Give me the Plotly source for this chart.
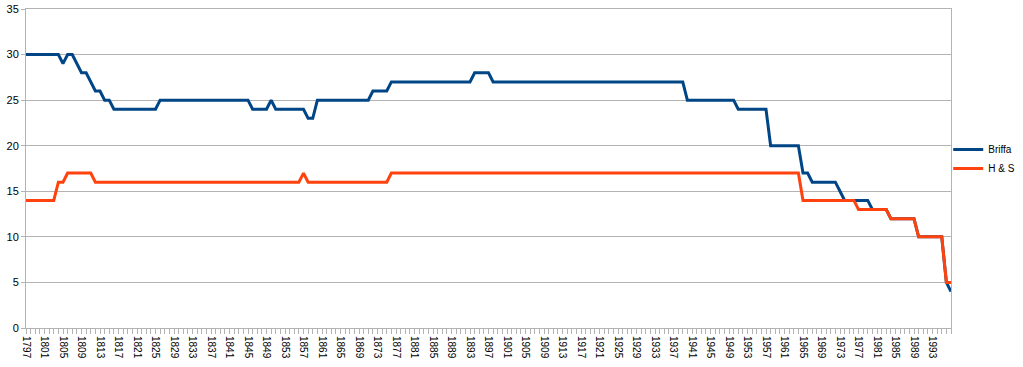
import plotly.graph_objects as go

years = list(range(1797, 1998))

briffa = [
    30, 30, 30,                                   # 1797-1799
    30, 30, 30, 30, 30, 29, 30, 30, 29, 28,       # 1800s
    28, 27, 26, 26, 25, 25, 24, 24, 24, 24,       # 1810s
    24, 24, 24, 24, 24, 24, 25, 25, 25, 25,       # 1820s
    25, 25, 25, 25, 25, 25, 25, 25, 25, 25,       # 1830s
    25, 25, 25, 25, 25, 25, 24, 24, 24, 24,       # 1840s
    25, 24, 24, 24, 24, 24, 24, 24, 23, 23,       # 1850s
    25, 25, 25, 25, 25, 25, 25, 25, 25, 25,       # 1860s
    25, 25, 26, 26, 26, 26, 27, 27, 27, 27,       # 1870s
    27, 27, 27, 27, 27, 27, 27, 27, 27, 27,       # 1880s
    27, 27, 27, 27, 28, 28, 28, 28, 27, 27,       # 1890s
    27, 27, 27, 27, 27, 27, 27, 27, 27, 27,       # 1900s
    27, 27, 27, 27, 27, 27, 27, 27, 27, 27,       # 1910s
    27, 27, 27, 27, 27, 27, 27, 27, 27, 27,       # 1920s
    27, 27, 27, 27, 27, 27, 27, 27, 27, 27,       # 1930s
    25, 25, 25, 25, 25, 25, 25, 25, 25, 25,       # 1940s
    25, 24, 24, 24, 24, 24, 24, 24, 20, 20,       # 1950s
    20, 20, 20, 20, 20, 17, 17, 16, 16, 16,       # 1960s
    16, 16, 16, 15, 14, 14, 14, 14, 14, 14,       # 1970s
    13, 13, 13, 13, 12, 12, 12, 12, 12, 12,       # 1980s
    10, 10, 10, 10, 10, 10, 5, 4,                 # 1990-1997
]

h_and_s = [
    14, 14, 14,                                   # 1797-1799
    14, 14, 14, 14, 16, 16, 17, 17, 17, 17,       # 1800s
    17, 17, 16, 16, 16, 16, 16, 16, 16, 16,       # 1810s
    16, 16, 16, 16, 16, 16, 16, 16, 16, 16,       # 1820s
    16, 16, 16, 16, 16, 16, 16, 16, 16, 16,       # 1830s
    16, 16, 16, 16, 16, 16, 16, 16, 16, 16,       # 1840s
    16, 16, 16, 16, 16, 16, 16, 17, 16, 16,       # 1850s
    16, 16, 16, 16, 16, 16, 16, 16, 16, 16,       # 1860s
    16, 16, 16, 16, 16, 16, 17, 17, 17, 17,       # 1870s
    17, 17, 17, 17, 17, 17, 17, 17, 17, 17,       # 1880s
    17, 17, 17, 17, 17, 17, 17, 17, 17, 17,       # 1890s
    17, 17, 17, 17, 17, 17, 17, 17, 17, 17,       # 1900s
    17, 17, 17, 17, 17, 17, 17, 17, 17, 17,       # 1910s
    17, 17, 17, 17, 17, 17, 17, 17, 17, 17,       # 1920s
    17, 17, 17, 17, 17, 17, 17, 17, 17, 17,       # 1930s
    17, 17, 17, 17, 17, 17, 17, 17, 17, 17,       # 1940s
    17, 17, 17, 17, 17, 17, 17, 17, 17, 17,       # 1950s
    17, 17, 17, 17, 17, 14, 14, 14, 14, 14,       # 1960s
    14, 14, 14, 14, 14, 14, 14, 13, 13, 13,       # 1970s
    13, 13, 13, 13, 12, 12, 12, 12, 12, 12,       # 1980s
    10, 10, 10, 10, 10, 10, 5, 5,                 # 1990-1997
]

tick_years = list(range(1797, 1994, 4))
tick_labels = [str(y) for y in tick_years]

series_names = ["Briffa", "H & S"]
series_colors = ["#004586", "#ff420e"]

fig = go.Figure()
for name, vals, col in zip(series_names, [briffa, h_and_s], series_colors):
    fig.add_trace(go.Scatter(x=years, y=vals, mode="lines", name=name,
                             line=dict(color=col, width=3)))

grid = "#b3b3b3"
fig.update_layout(
    width=1023, height=367,
    margin=dict(l=26, r=72, t=9, b=39, autoexpand=False),
    paper_bgcolor="white", plot_bgcolor="white",
    font=dict(family="Liberation Sans, Arial, sans-serif", color="black", size=11),
    legend=dict(x=0.997, y=0.53, xanchor="left", yanchor="middle",
                font=dict(size=10), itemwidth=30, tracegroupgap=0,
                bgcolor="rgba(0,0,0,0)"),
    xaxis=dict(range=[1797, 1997], tickmode="array", tickvals=tick_years,
               ticktext=tick_labels, tickangle=90, tickfont=dict(size=10),
               ticks="outside", ticklen=5, tickcolor=grid, automargin=False,
               minor=dict(ticks="outside", dtick=1, tick0=1797, ticklen=5,
                          tickcolor=grid, showgrid=False),
               showgrid=False, showline=True, linecolor=grid, mirror=True,
               zeroline=False),
    yaxis=dict(range=[0, 35], dtick=5, tick0=0, showgrid=True, gridcolor=grid,
               ticks="outside", ticklen=4, tickcolor=grid, automargin=False,
               tickfont=dict(size=11),
               showline=True, linecolor=grid, mirror=True, zeroline=False),
)

fig.write_html("out.html", config={"displayModeBar": False},
               post_script="document.body.style.margin='0';document.body.style.overflow='hidden';")
